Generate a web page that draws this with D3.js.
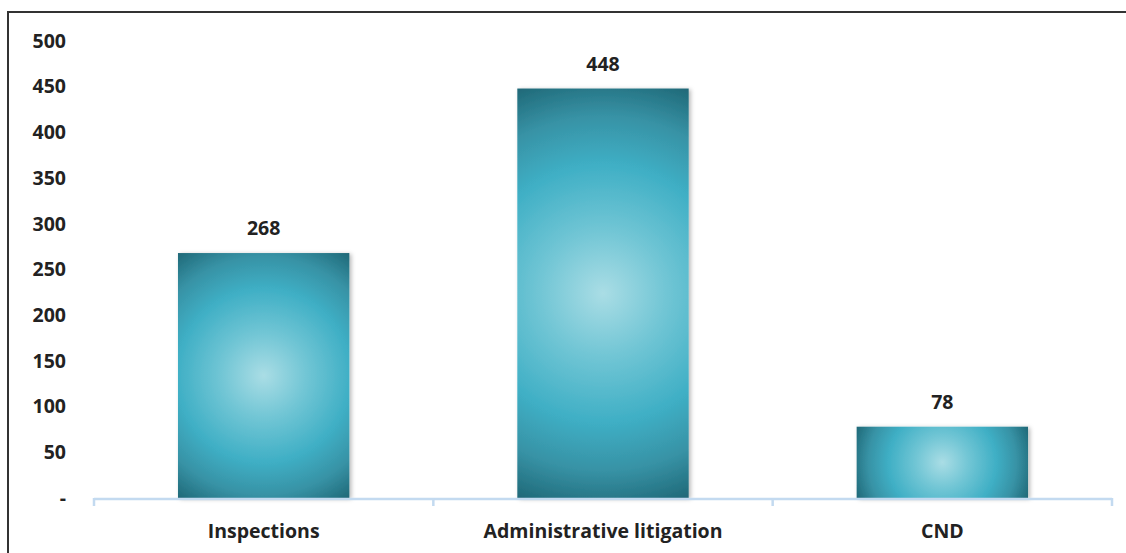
<!DOCTYPE html>
<html>
<head>
<meta charset="utf-8">
<script src="https://cdn.jsdelivr.net/npm/d3@7/dist/d3.min.js"></script>
<style>
  html, body { margin: 0; padding: 0; background: #fff; }
  svg { display: block; }
  text { font-family: "Open Sans", "Noto Sans", sans-serif; font-weight: 700; fill: #222; }
</style>
</head>
<body>
<div id="chart"></div>
<script>
// Case counts by category
const categories = ["Inspections", "Administrative litigation", "CND"];
const values = [268, 448, 78];
const yTicks = [0, 50, 100, 150, 200, 250, 300, 350, 400, 450, 500];
const yTickLabels = ["-", "50", "100", "150", "200", "250", "300", "350", "400", "450", "500"];

const W = 1126, H = 553;
const plot = { left: 94, right: 1112, top: 41, bottom: 498 };
const FONT = "19.5px";

const svg = d3.select("#chart").append("svg")
  .attr("width", W).attr("height", H);

// outer frame (right and bottom edges fall outside the view)
svg.append("path")
  .attr("d", `M8,${H + 5} L8,12 L${W + 5},12`)
  .attr("fill", "none").attr("stroke", "#333").attr("stroke-width", 2);

const x = d3.scaleBand().domain(categories)
  .range([plot.left, plot.right]).paddingInner(0).paddingOuter(0);
const y = d3.scaleLinear().domain([0, 500]).range([plot.bottom, plot.top]);

const barW = x.bandwidth() * 0.505;

const defs = svg.append("defs");
const shadow = defs.append("filter").attr("id", "barShadow")
  .attr("x", "-10%").attr("y", "-10%").attr("width", "125%").attr("height", "125%");
shadow.append("feDropShadow")
  .attr("dx", 2).attr("dy", 1).attr("stdDeviation", 2.2)
  .attr("flood-color", "#000").attr("flood-opacity", 0.28);

const stops = [
  [0, "#aadde5"],
  [0.28, "#72c6d5"],
  [0.58, "#3fafc5"],
  [0.8, "#3792a5"],
  [1, "#1f6877"]
];

values.forEach((v, i) => {
  const x0 = x(categories[i]) + (x.bandwidth() - barW) / 2;
  const y0 = y(v);
  const h = y(0) - y0;
  const g = defs.append("radialGradient")
    .attr("id", "grad" + i)
    .attr("gradientUnits", "userSpaceOnUse")
    .attr("cx", x0 + barW / 2).attr("cy", y0 + h / 2)
    .attr("fx", x0 + barW / 2).attr("fy", y0 + h / 2)
    .attr("r", Math.hypot(barW / 2, h / 2));
  stops.forEach(s => g.append("stop").attr("offset", s[0]).attr("stop-color", s[1]));
});

// bars
svg.append("g").selectAll("rect")
  .data(values)
  .join("rect")
  .attr("x", (d, i) => x(categories[i]) + (x.bandwidth() - barW) / 2)
  .attr("y", d => y(d))
  .attr("width", barW)
  .attr("height", d => y(0) - y(d))
  .attr("fill", (d, i) => `url(#grad${i})`)
  .attr("filter", "url(#barShadow)");

// value labels
svg.append("g").selectAll("text")
  .data(values)
  .join("text")
  .attr("x", (d, i) => x(categories[i]) + x.bandwidth() / 2)
  .attr("y", d => y(d) - 18)
  .attr("text-anchor", "middle")
  .style("font-size", FONT)
  .text(d => d);

// x axis: light blue baseline with category boundary ticks
const xAxisG = svg.append("g");
xAxisG.append("line")
  .attr("x1", plot.left).attr("x2", plot.right)
  .attr("y1", plot.bottom + 1).attr("y2", plot.bottom + 1)
  .attr("stroke", "#c3daf0").attr("stroke-width", 2.5);
const bounds = categories.map(c => x(c)).concat([x(categories[categories.length - 1]) + x.bandwidth()]);
xAxisG.selectAll("line.tick")
  .data(bounds)
  .join("line")
  .attr("class", "tick")
  .attr("x1", d => d).attr("x2", d => d)
  .attr("y1", plot.bottom).attr("y2", plot.bottom + 8)
  .attr("stroke", "#c3daf0").attr("stroke-width", 2.5);
xAxisG.selectAll("text")
  .data(categories)
  .join("text")
  .attr("x", d => x(d) + x.bandwidth() / 2)
  .attr("y", 538)
  .attr("text-anchor", "middle")
  .style("font-size", FONT)
  .text(d => d);

// y axis labels (no axis line)
const yAxis = d3.axisLeft(y).tickValues(yTicks)
  .tickFormat((d, i) => yTickLabels[i]).tickSize(0).tickPadding(0);
const yG = svg.append("g").attr("transform", "translate(66,0)").call(yAxis);
yG.select(".domain").remove();
yG.selectAll("text")
  .style("font-size", FONT)
  .style("font-family", "'Open Sans', 'Noto Sans', sans-serif")
  .style("font-weight", 700)
  .attr("fill", "#222");
</script>
</body>
</html>
